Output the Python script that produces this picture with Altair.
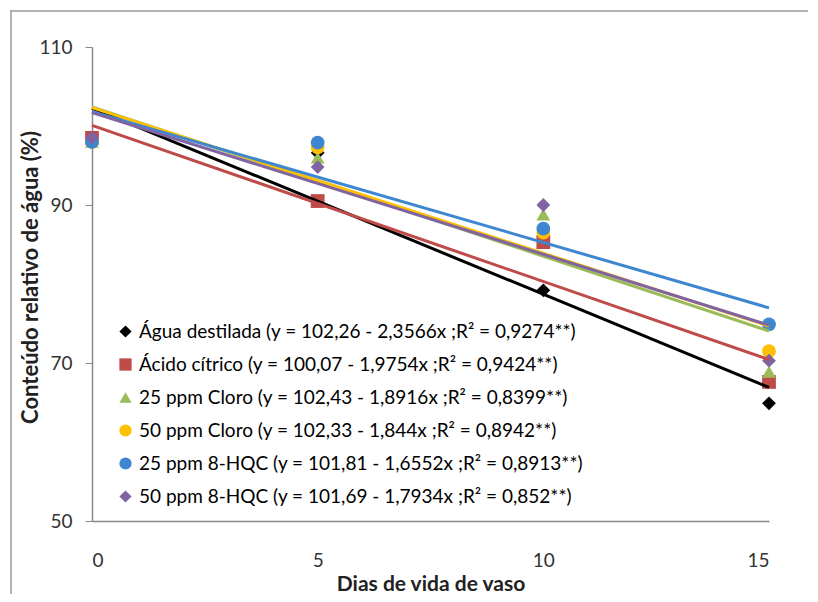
import altair as alt
import pandas as pd

labels = [
    "Água destilada (y = 102,26 - 2,3566x ;R² = 0,9274**)",
    "Ácido cítrico (y = 100,07 - 1,9754x ;R² = 0,9424**)",
    "25 ppm Cloro (y = 102,43 - 1,8916x ;R² = 0,8399**)",
    "50 ppm Cloro (y = 102,33 - 1,844x ;R² = 0,8942**)",
    "25 ppm 8-HQC (y = 101,81 - 1,6552x ;R² = 0,8913**)",
    "50 ppm 8-HQC (y = 101,69 - 1,7934x ;R² = 0,852**)",
]
days = [0, 5, 10, 15]
agua = [98.0, 96.6, 79.2, 64.9]
acido = [98.5, 90.5, 85.3, 67.6]
cloro25 = [98.0, 96.0, 88.8, 68.9]
cloro50 = [98.0, 97.3, 86.5, 71.5]
hqc25 = [98.0, 97.9, 87.0, 74.9]
hqc50 = [98.5, 94.8, 90.0, 70.3]
series_values = [agua, acido, cloro25, cloro50, hqc25, hqc50]
intercepts = [102.26, 100.07, 102.43, 102.33, 101.81, 101.69]
slopes = [-2.3566, -1.9754, -1.8916, -1.844, -1.6552, -1.7934]
colors = ["#000000", "#BE4B48", "#9BBB59", "#FFC000", "#3E87D0", "#8064A2"]
shapes = ["diamond", "square", "triangle-up", "circle", "circle", "diamond"]

pts = pd.DataFrame([
    {"serie": labels[i], "ord": i, "dia": d, "valor": v}
    for i, vals in enumerate(series_values)
    for d, v in zip(days, vals)
])
lines = pd.DataFrame([
    {"serie": labels[i], "ord": i, "dia": d, "valor": intercepts[i] + slopes[i] * d}
    for i in range(len(labels))
    for d in (days[0], days[-1])
])

FONT = "Lato"
xscale = alt.Scale(domain=[0, 15], nice=False, zero=False)
yscale = alt.Scale(domain=[50, 110], nice=False, zero=False)

leg = alt.Legend(
    orient="none", legendX=24, legendY=275, title=None,
    labelFont=FONT, labelFontSize=19, labelColor="#000000", labelLimit=0,
    symbolSize=150, rowPadding=13, labelOffset=4, symbolStrokeWidth=0,
)

points = alt.Chart(pts).mark_point(filled=True, opacity=1, size=190).encode(
    x=alt.X("dia:Q", scale=xscale,
            axis=alt.Axis(values=days, title="Dias de vida de vaso", ticks=False,
                          labelPadding=30, titleY=69, titleBaseline="alphabetic",
                          titleFontSize=21)),
    y=alt.Y("valor:Q", scale=yscale,
            axis=alt.Axis(values=[50, 70, 90, 110], title="Conteúdo relativo de água (%)",
                          tickSize=7, labelPadding=13, titleX=-62, titleY=230,
                          titleBaseline="middle", titleFontSize=22)),
    color=alt.Color("serie:N", scale=alt.Scale(domain=labels, range=colors), legend=leg),
    shape=alt.Shape("serie:N", scale=alt.Scale(domain=labels, range=shapes), legend=leg),
    order=alt.Order("ord:Q"),
)

trend = alt.Chart(lines).mark_line(strokeWidth=3).encode(
    x=alt.X("dia:Q", scale=xscale),
    y=alt.Y("valor:Q", scale=yscale),
    stroke=alt.Stroke("serie:N", scale=alt.Scale(domain=labels, range=colors), legend=None),
    detail="serie:N",
)

frame = pd.DataFrame({"a": [0]})
border_left = alt.Chart(frame).mark_rect(fill="#9a9a9a", strokeWidth=0, clip=False).encode(
    x=alt.value(-81.75), x2=alt.value(-80.25), y=alt.value(-36.75), y2=alt.value(560))
border_top = alt.Chart(frame).mark_rect(fill="#9a9a9a", strokeWidth=0, clip=False).encode(
    x=alt.value(-81.75), x2=alt.value(716), y=alt.value(-36.75), y2=alt.value(-35.25))

chart = alt.layer(border_left, border_top, points, trend).resolve_scale(
    color="independent", shape="independent"
).properties(
    width=677, height=474,
    autosize=alt.AutoSizeParams(type="none"),
    padding={"left": 84, "top": 39, "right": 41, "bottom": 73},
).configure_view(stroke=None).configure_axis(
    grid=False, domainColor="#888888", tickColor="#888888", domainWidth=1.5,
    labelFont=FONT, labelFontSize=19, labelColor="#333333",
    titleFont=FONT, titleFontWeight="bold", titleColor="#222222",
)

chart.save("out.html", embed_options={"renderer": "svg", "actions": False})
